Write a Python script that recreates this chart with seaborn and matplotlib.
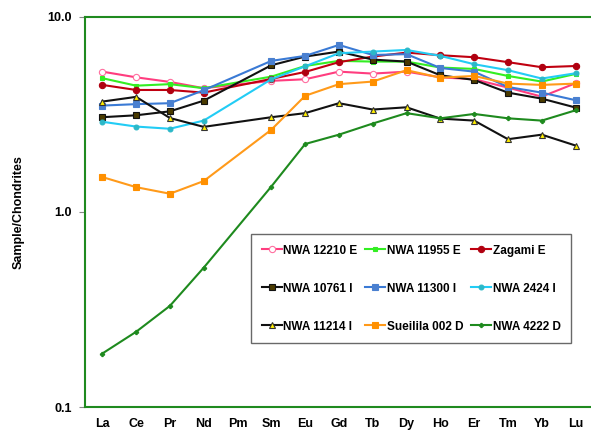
import numpy as np
import pandas as pd
import matplotlib
matplotlib.use("Agg")
import matplotlib.pyplot as plt
import seaborn as sns

# Terres rares normalisées aux chondrites
elements = ['La', 'Ce', 'Pr', 'Nd', 'Pm', 'Sm', 'Eu', 'Gd', 'Tb', 'Dy',
            'Ho', 'Er', 'Tm', 'Yb', 'Lu']

# Pm n'est pas mesuré -> None
nwa_12210 = [5.24, 4.90, 4.64, 4.31, None, 4.70, 4.79, 5.24, 5.12, 5.24, 4.90, 4.79, 4.34, 3.90, 4.57]
nwa_11955 = [4.85, 4.44, 4.52, 4.31, None, 4.94, 5.60, 5.95, 5.90, 5.90, 5.50, 5.41, 4.98, 4.66, 5.10]
zagami    = [4.48, 4.22, 4.22, 4.09, None, 4.81, 5.22, 5.86, 6.26, 6.56, 6.36, 6.21, 5.86, 5.52, 5.60]
nwa_10761 = [3.06, 3.13, 3.28, 3.72, None, 5.65, 6.26, 6.64, 6.04, 5.90, 5.02, 4.75, 4.09, 3.81, 3.43]
nwa_11300 = [3.51, 3.57, 3.61, 4.21, None, 5.95, 6.31, 7.18, 6.38, 6.44, 5.47, 5.24, 4.37, 4.09, 3.74]
nwa_2424  = [2.90, 2.74, 2.67, 2.94, None, 4.79, 5.58, 6.51, 6.64, 6.77, 6.31, 5.72, 5.33, 4.83, 5.14]
nwa_11214 = [3.68, 3.89, 3.03, 2.73, None, 3.06, 3.21, 3.61, 3.35, 3.44, 3.01, 2.94, 2.36, 2.49, 2.19]
sueilila  = [1.51, 1.34, 1.24, 1.44, None, 2.64, 3.94, 4.52, 4.66, 5.33, 4.88, 4.98, 4.55, 4.48, 4.55]
nwa_4222  = [0.188, 0.243, 0.33, 0.518, None, 1.35, 2.23, 2.49, 2.84, 3.21, 3.02, 3.18, 3.02, 2.94, 3.32]

series = [
    # (nom, valeurs, couleur ligne, marqueur, face, bord, taille)
    ('NWA 12210 E',     nwa_12210, '#ff3d7f', 'o', 'white',   '#ff6fa0', 4.5),
    ('NWA 11955 E',     nwa_11955, '#33ee22', 's', '#33ee22', '#33ee22', 3.5),
    ('Zagami E',        zagami,    '#c00010', 'o', '#b00010', '#b00010', 4.5),
    ('NWA 10761 I',     nwa_10761, '#111111', 's', '#4a3a00', '#111111', 4),
    ('NWA 11300 I',     nwa_11300, '#3a7ad5', 's', '#4a80d0', '#4a80d0', 4),
    ('NWA 2424 I',      nwa_2424,  '#22ccf5', 'o', '#2bb8c8', '#2bb8c8', 3.5),
    ('NWA 11214 I',     nwa_11214, '#111111', '^', '#ffee00', '#333333', 4),
    ('Sueilila 002 D',  sueilila,  '#ff9a1a', 's', '#ff9000', '#ff9000', 4),
    ('NWA 4222 D',      nwa_4222,  '#1e8a1e', 'P', '#1e8a1e', '#1e8a1e', 3),
]

plt.rcParams['font.family'] = ['Liberation Sans', 'DejaVu Sans']
plt.rcParams['font.weight'] = 'bold'

fig = plt.figure(figsize=(5.91, 4.33), dpi=100)
ax = fig.add_axes([0.1445, 0.060, 0.858, 0.901])

x_pos = np.arange(len(elements))
for name, vals, col, mk, fc, ec, ms in series:
    df = pd.DataFrame({'x': x_pos, 'y': vals}).dropna()
    sns.lineplot(data=df, x='x', y='y', ax=ax, color=col, linewidth=1.5,
                 marker=mk, markersize=ms, markerfacecolor=fc,
                 markeredgecolor=ec, markeredgewidth=0.8, label=name)

ax.set_yscale('log')
ax.set_ylim(0.1, 10)
ax.set_xlim(-0.5, len(elements) - 0.5)
ax.set_yticks([0.1, 1.0, 10.0])
ax.set_yticklabels(['0.1', '1.0', '10.0'], fontsize=9, fontweight='bold')
ax.yaxis.set_minor_locator(matplotlib.ticker.NullLocator())
ax.set_xticks(x_pos)
ax.set_xticklabels(elements, fontsize=9, fontweight='bold')
ax.tick_params(axis='x', length=0, pad=8)
ax.tick_params(axis='y', length=4, width=0.8, color='#888888', pad=6)
ax.set_xlabel('')
ax.set_ylabel('Sample/Chondrites', fontsize=9, fontweight='bold', labelpad=16)

for side in ['left', 'top', 'bottom']:
    ax.spines[side].set_color('#1f8a1f')
    ax.spines[side].set_linewidth(1.5)
ax.spines['right'].set_visible(False)

# légende remplie ligne par ligne comme l'original
handles, labels = ax.get_legend_handles_labels()
order = [0, 3, 6, 1, 4, 7, 2, 5, 8]
leg = ax.legend([handles[i] for i in order], [labels[i] for i in order],
                ncol=3, loc='upper left', bbox_to_anchor=(251 / 591, 1 - 234 / 433),
                bbox_transform=fig.transFigure, prop={'weight': 'bold', 'size': 8.5},
                frameon=True, fancybox=False, labelspacing=2.2, handlelength=1.7,
                handletextpad=0.1, columnspacing=0.7, borderpad=0.9, borderaxespad=0)
leg.get_frame().set_edgecolor('#444444')
leg.get_frame().set_linewidth(1.0)

fig.savefig('out.png', dpi=100)
